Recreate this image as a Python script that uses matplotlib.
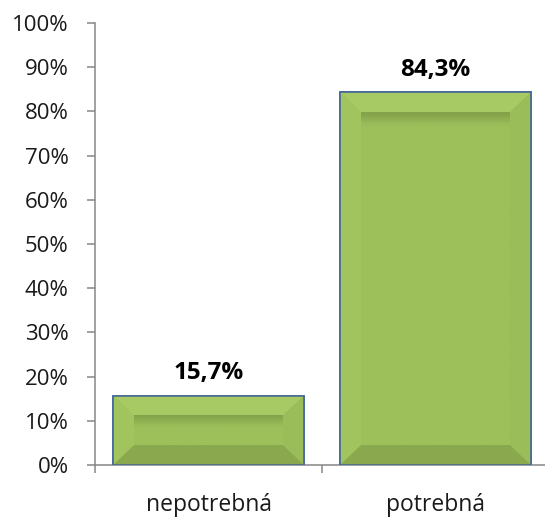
import numpy as np
import matplotlib
matplotlib.use('Agg')
import matplotlib.pyplot as plt
from matplotlib.patches import Polygon
from matplotlib.colors import to_rgb

categories = ['nepotrebná', 'potrebná']
values = [15.7, 84.3]
value_labels = ['15,7%', '84,3%']
yticks = list(range(0, 101, 10))

plt.rcParams['font.family'] = ['Open Sans', 'DejaVu Sans']

fig = plt.figure(figsize=(5.45, 5.19), dpi=100)
ax = fig.add_axes([95 / 545, 54 / 519, 454 / 545, 442 / 519])

x = np.arange(len(categories))
bars = ax.bar(x, values, width=0.84, color='#9cbf5a', edgecolor='#41649a', linewidth=1.1, zorder=2)

ax.set_xlim(-0.5, len(categories) - 0.5)
ax.set_ylim(0, 100)

# bevel look, sizes in pixels turned into data units
bx = 21 / 227
by = 20 * 100 / 442
for rect in bars:
    x0 = rect.get_x()
    x1 = x0 + rect.get_width()
    h = rect.get_height()
    ix0, ix1, iy0, iy1 = x0 + bx, x1 - bx, by, h - by
    faces = [
        ([(x0, h), (x1, h), (ix1, iy1), (ix0, iy1)], '#a8ca64'),
        ([(x0, 0), (x0, h), (ix0, iy1), (ix0, iy0)], '#a2c45e'),
        ([(x1, 0), (x1, h), (ix1, iy1), (ix1, iy0)], '#9abc59'),
        ([(x0, 0), (x1, 0), (ix1, iy0), (ix0, iy0)], '#8aa84d'),
    ]
    for pts, c in faces:
        ax.add_patch(Polygon(pts, closed=True, facecolor=c, edgecolor='none', zorder=3))
    # inner face with a shadow along its top
    n = 100
    inner_px = (iy1 - iy0) * 442 / 100
    t = np.clip(np.linspace(0, inner_px, n) / 12, 0, 1)
    dark, light = np.array(to_rgb('#84a24a')), np.array(to_rgb('#9dc05b'))
    grad = dark[None, :] * (1 - t[:, None]) + light[None, :] * t[:, None]
    ax.imshow(grad[:, None, :], extent=(ix0, ix1, iy0, iy1), origin='upper',
              aspect='auto', interpolation='bilinear', zorder=4)
    ax.add_patch(Polygon([(x0, 0), (x0, h), (x1, h), (x1, 0)], closed=True,
                         facecolor='none', edgecolor='#41649a', linewidth=1.1, zorder=5))

ax.set_xlim(-0.5, len(categories) - 0.5)
ax.set_ylim(0, 100)

for xi, v, lab in zip(x, values, value_labels):
    ax.annotate(lab, (xi, v), xytext=(0, 12), textcoords='offset points',
                ha='center', va='baseline', fontsize=17.5, fontweight='bold', color='black')

ax.set_yticks(yticks)
ax.set_yticklabels([f'{t}%' for t in yticks], fontsize=16, color='#1a1a1a')
ax.tick_params(axis='y', length=6, width=1.1, color='#868686', pad=13)

ax.set_xticks(x)
ax.set_xticklabels(categories, fontsize=16.5, color='#1a1a1a')
ax.tick_params(axis='x', which='major', length=0, pad=20)
ax.set_xticks(np.arange(-0.5, len(categories)), minor=True)
ax.tick_params(axis='x', which='minor', length=6, width=1.1, color='#868686')

for s in ['top', 'right']:
    ax.spines[s].set_visible(False)
for s in ['left', 'bottom']:
    ax.spines[s].set_color('#868686')
    ax.spines[s].set_linewidth(1.1)

fig.savefig('out.png', dpi=100)
